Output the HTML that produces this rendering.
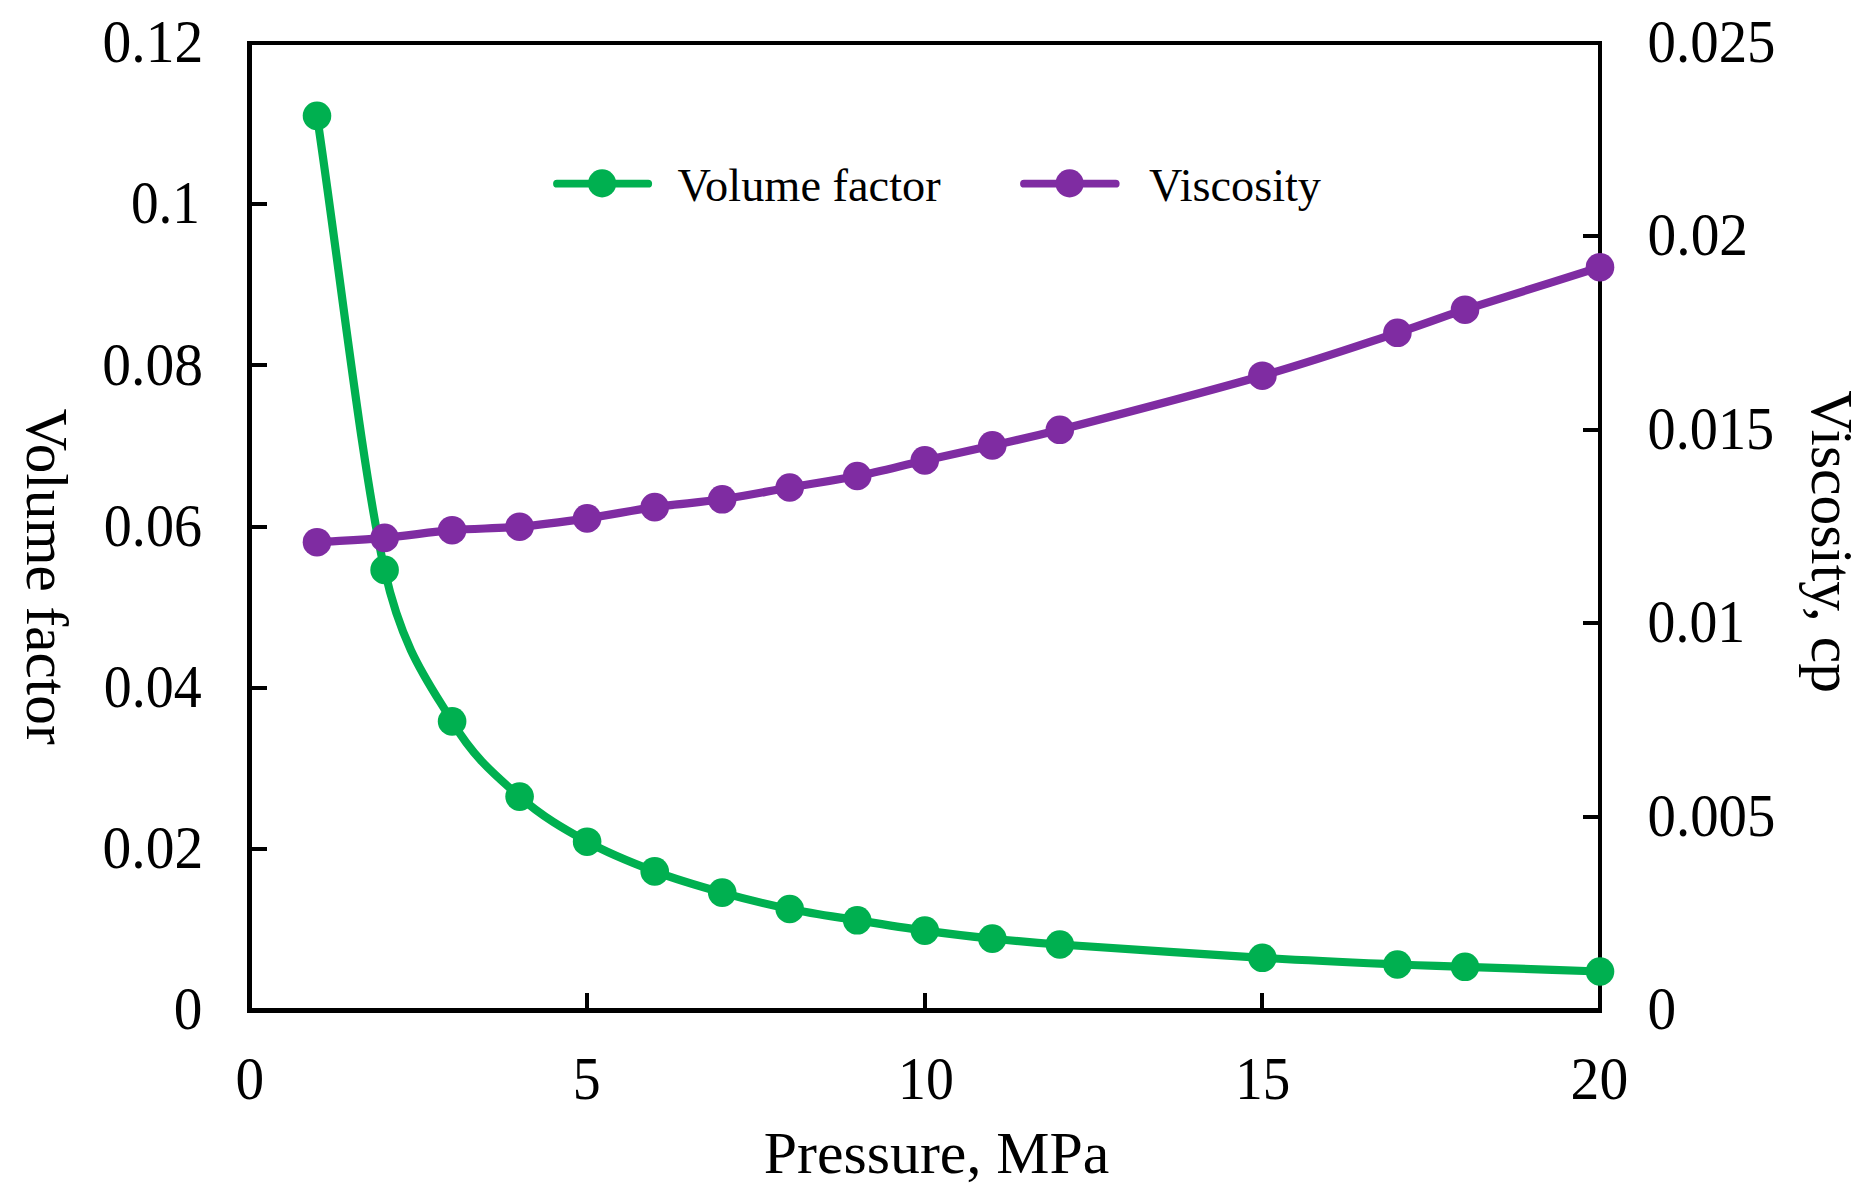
<!DOCTYPE html>
<html><head><meta charset="utf-8"><title>Volume factor and viscosity vs pressure</title>
<style>html,body{margin:0;padding:0;background:#fff;}svg{display:block}text{font-family:"Liberation Serif","Times New Roman",serif;fill:#000}</style></head><body>
<svg width="1873" height="1193" viewBox="0 0 1873 1193">
<rect width="1873" height="1193" fill="#fff"/>
<g fill="#000">
<rect x="247" y="41" width="5" height="972"/>
<rect x="247" y="41" width="1355" height="4"/>
<rect x="1598" y="41" width="4" height="972"/>
<rect x="247" y="1008" width="1355" height="5"/>
<rect x="252" y="847.0" width="15" height="4"/>
<rect x="252" y="686.0" width="15" height="4"/>
<rect x="252" y="525.0" width="15" height="4"/>
<rect x="252" y="363.0" width="15" height="4"/>
<rect x="252" y="202.0" width="15" height="4"/>
<rect x="1583" y="815.0" width="15" height="4"/>
<rect x="1583" y="621.0" width="15" height="4"/>
<rect x="1583" y="428.0" width="15" height="4"/>
<rect x="1583" y="234.0" width="15" height="4"/>
<rect x="585" y="993" width="4" height="15"/>
<rect x="923" y="993" width="4" height="15"/>
<rect x="1260" y="993" width="4" height="15"/>
</g>
<path d="M317.02 115.80 C339.53 267.17 362.04 468.97 384.55 569.90 C402.60 650.85 429.57 683.62 452.08 721.40 C474.58 759.18 497.09 776.55 519.60 796.60 C542.11 816.65 564.62 829.23 587.12 841.70 C609.63 854.17 632.14 862.92 654.65 871.40 C677.16 879.88 699.67 886.33 722.18 892.60 C744.68 898.87 767.19 904.38 789.70 909.00 C812.21 913.62 834.72 916.70 857.23 920.30 C879.73 923.90 902.24 927.55 924.75 930.60 C947.26 933.65 969.77 936.28 992.28 938.60 C1014.78 940.92 1025.99 942.10 1059.80 944.50 C1104.82 947.70 1206.10 954.47 1262.38 957.80 C1318.65 961.13 1363.66 963.00 1397.43 964.50 C1431.17 966.00 1431.19 965.63 1464.95 966.80 C1498.71 967.97 1554.98 969.93 1600.00 971.50" fill="none" stroke="#00b050" stroke-width="8.2" stroke-linecap="round" stroke-linejoin="round"/>
<g fill="#00b050"><circle cx="317.0" cy="115.8" r="14.3"/><circle cx="384.6" cy="569.9" r="14.3"/><circle cx="452.1" cy="721.4" r="14.3"/><circle cx="519.6" cy="796.6" r="14.3"/><circle cx="587.1" cy="841.7" r="14.3"/><circle cx="654.7" cy="871.4" r="14.3"/><circle cx="722.2" cy="892.6" r="14.3"/><circle cx="789.7" cy="909.0" r="14.3"/><circle cx="857.2" cy="920.3" r="14.3"/><circle cx="924.8" cy="930.6" r="14.3"/><circle cx="992.3" cy="938.6" r="14.3"/><circle cx="1059.8" cy="944.5" r="14.3"/><circle cx="1262.4" cy="957.8" r="14.3"/><circle cx="1397.4" cy="964.5" r="14.3"/><circle cx="1465.0" cy="966.8" r="14.3"/><circle cx="1600.0" cy="971.5" r="14.3"/></g>
<path d="M317.02 542.20 C339.53 540.77 362.04 539.90 384.55 537.90 C407.06 535.90 429.57 532.07 452.08 530.20 C474.58 528.33 497.09 528.67 519.60 526.70 C542.11 524.73 564.62 521.67 587.12 518.40 C609.63 515.13 632.14 510.28 654.65 507.10 C677.16 503.92 699.67 502.57 722.18 499.30 C744.68 496.03 767.19 491.38 789.70 487.50 C812.21 483.62 834.72 480.52 857.23 476.00 C879.73 471.48 902.24 465.50 924.75 460.40 C947.26 455.30 969.77 450.50 992.28 445.40 C1014.78 440.30 1026.25 438.46 1059.80 429.80 C1104.82 418.18 1206.10 391.87 1262.38 375.70 C1318.65 359.53 1363.66 343.80 1397.43 332.80 C1431.19 321.80 1431.19 320.63 1464.95 309.70 C1498.71 298.77 1554.98 281.37 1600.00 267.20" fill="none" stroke="#7f2ca2" stroke-width="8.2" stroke-linecap="round" stroke-linejoin="round"/>
<g fill="#7f2ca2"><circle cx="317.0" cy="542.2" r="14.3"/><circle cx="384.6" cy="537.9" r="14.3"/><circle cx="452.1" cy="530.2" r="14.3"/><circle cx="519.6" cy="526.7" r="14.3"/><circle cx="587.1" cy="518.4" r="14.3"/><circle cx="654.7" cy="507.1" r="14.3"/><circle cx="722.2" cy="499.3" r="14.3"/><circle cx="789.7" cy="487.5" r="14.3"/><circle cx="857.2" cy="476.0" r="14.3"/><circle cx="924.8" cy="460.4" r="14.3"/><circle cx="992.3" cy="445.4" r="14.3"/><circle cx="1059.8" cy="429.8" r="14.3"/><circle cx="1262.4" cy="375.7" r="14.3"/><circle cx="1397.4" cy="332.8" r="14.3"/><circle cx="1465.0" cy="309.7" r="14.3"/><circle cx="1600.0" cy="267.2" r="14.3"/></g>
<path d="M557 183.7 H648.2" stroke="#00b050" stroke-width="7.8" stroke-linecap="round"/>
<circle cx="602.1" cy="183.4" r="14.1" fill="#00b050"/>
<path d="M1024 183.7 H1115.7" stroke="#7f2ca2" stroke-width="7.8" stroke-linecap="round"/>
<circle cx="1069.6" cy="183.4" r="14.1" fill="#7f2ca2"/>
<text transform="translate(677.6 201.0) scale(1.0080 1.0000)" font-size="46" text-anchor="start">Volume factor</text>
<text transform="translate(1149.0 201.0) scale(1.0060 1.0000)" font-size="46" text-anchor="start">Viscosity</text>
<text transform="translate(202.5 1029.2) scale(0.9240 1.0000)" font-size="62" text-anchor="end">0</text>
<text transform="translate(203.2 868.4) scale(0.9280 1.0000)" font-size="62" text-anchor="end">0.02</text>
<text transform="translate(201.7 707.0) scale(0.9020 1.0000)" font-size="62" text-anchor="end">0.04</text>
<text transform="translate(202.0 545.5) scale(0.9050 1.0000)" font-size="62" text-anchor="end">0.06</text>
<text transform="translate(203.0 384.5) scale(0.9280 1.0000)" font-size="62" text-anchor="end">0.08</text>
<text transform="translate(200.0 223.3) scale(0.8920 1.0000)" font-size="62" text-anchor="end">0.1</text>
<text transform="translate(203.4 61.9) scale(0.9300 1.0000)" font-size="62" text-anchor="end">0.12</text>
<text transform="translate(1647.6 1028.9) scale(0.9240 1.0000)" font-size="62" text-anchor="start">0</text>
<text transform="translate(1647.6 836.4) scale(0.9165 1.0000)" font-size="62" text-anchor="start">0.005</text>
<text transform="translate(1647.6 642.4) scale(0.8995 1.0000)" font-size="62" text-anchor="start">0.01</text>
<text transform="translate(1647.6 449.0) scale(0.9080 1.0000)" font-size="62" text-anchor="start">0.015</text>
<text transform="translate(1647.6 255.2) scale(0.9260 1.0000)" font-size="62" text-anchor="start">0.02</text>
<text transform="translate(1647.6 61.8) scale(0.9170 1.0000)" font-size="62" text-anchor="start">0.025</text>
<text transform="translate(249.8 1099.1) scale(0.9240 1.0000)" font-size="62" text-anchor="middle">0</text>
<text transform="translate(586.8 1099.1) scale(0.9000 1.0000)" font-size="62" text-anchor="middle">5</text>
<text transform="translate(926.0 1099.1) scale(0.9000 1.0000)" font-size="62" text-anchor="middle">10</text>
<text transform="translate(1262.7 1099.1) scale(0.8870 1.0000)" font-size="62" text-anchor="middle">15</text>
<text transform="translate(1599.4 1099.1) scale(0.9300 1.0000)" font-size="62" text-anchor="middle">20</text>
<text transform="translate(936.5 1172.5) scale(0.9970 1.0000)" font-size="60" text-anchor="middle">Pressure, MPa</text>
<text transform="translate(27.0 576.6) rotate(90) scale(0.9870 1.0000)" font-size="60" text-anchor="middle">Volume factor</text>
<text transform="translate(1811.7 541.5) rotate(90) scale(0.9900 1.0000)" font-size="60" text-anchor="middle">Viscosity, cp</text>
</svg></body></html>
